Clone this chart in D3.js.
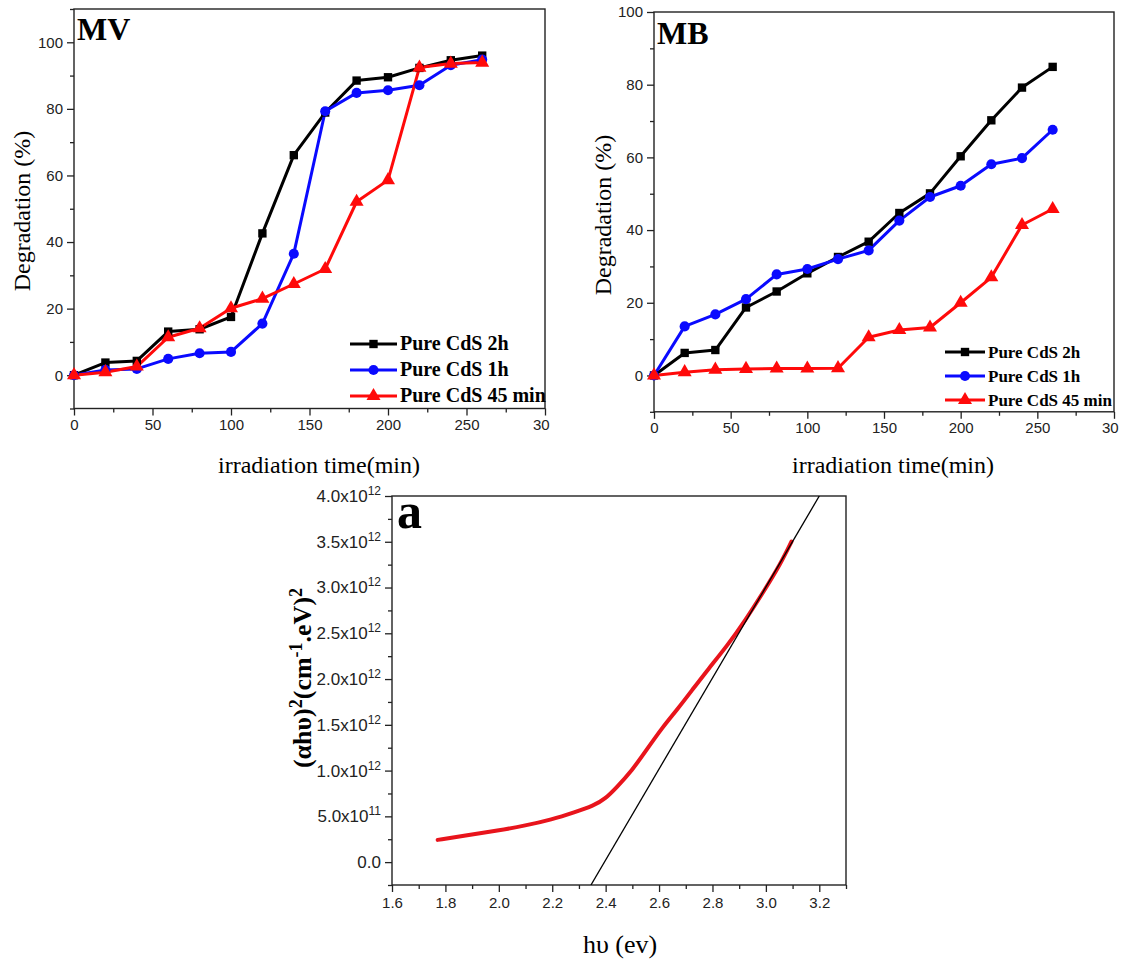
<!DOCTYPE html>
<html><head><meta charset="utf-8">
<script src="https://cdn.jsdelivr.net/npm/d3@7"></script>
<style>body{margin:0;background:#fff} svg{display:block}</style>
</head><body><svg id="c" width="1121" height="962"></svg>
<script>
// ---------- data ----------
const time = [0,20,40,60,80,100,120,140,160,180,200,220,240,260];
const seriesNames = ["Pure CdS 2h","Pure CdS 1h","Pure CdS 45 min"];
const mv2h  = [0,3.8,4.3,13.1,13.8,17.5,42.6,66.1,78.9,88.5,89.5,92.3,94.6,96.0];
const mv1h  = [0,1.6,1.9,4.9,6.6,7.0,15.5,36.5,79.3,84.8,85.6,87.1,93.1,94.8];
const mv45  = [0,0.9,2.6,11.4,14.1,20.1,23.0,27.4,31.9,52.1,58.6,92.4,93.6,93.9];
const mb2h  = [0,6.2,7.0,18.7,23.1,28.1,32.6,36.8,44.7,50.1,60.3,70.2,79.2,84.9];
const mb1h  = [0,13.5,16.8,21.0,27.8,29.3,32.0,34.4,42.6,49.1,52.2,58.1,59.8,67.6];
const mb45  = [0,0.9,1.6,1.8,1.9,1.9,2.0,10.5,12.5,13.2,20.0,27.0,41.4,45.8];
const timeTicks = [0,50,100,150,200,250,300];
const timeTickLabels = ["0","50","100","150","200","250","30"];
const timeMinor = [25,75,125,175,225,275];
const mvYTicks = [0,20,40,60,80,100];
const mvYMinor = [-10,10,30,50,70,90,110];
const mbYTicks = [0,20,40,60,80,100];
const mbYMinor = [-10,10,30,50,70,90];
// Tauc plot (units of 1e12)
const bandX = [1.771,1.871,1.999,2.099,2.198,2.284,2.355,2.398,2.441,2.498,2.555,2.612,2.669,2.726,2.783,2.854,2.925,2.996,3.053,3.096];
const bandY = [0.243,0.290,0.345,0.399,0.465,0.545,0.617,0.690,0.817,0.998,1.234,1.470,1.670,1.888,2.105,2.359,2.650,2.977,3.249,3.503];
const fitX = [2.345,3.2];
const fitY = [-0.25,4.0];
const bandXTicks = [1.6,1.8,2.0,2.2,2.4,2.6,2.8,3.0,3.2];
const bandXMinor = [1.7,1.9,2.1,2.3,2.5,2.7,2.9,3.1,3.3];
const bandYTicks = [0,0.5,1.0,1.5,2.0,2.5,3.0,3.5,4.0];
const bandYMant  = ["0.0","5.0","1.0","1.5","2.0","2.5","3.0","3.5","4.0"];
const bandYExp   = ["","11","12","12","12","12","12","12","12"];
const bandYMinor = [-0.25,0.25,0.75,1.25,1.75,2.25,2.75,3.25,3.75];

// ---------- drawing ----------
const svg = d3.select("#c");
svg.append("rect").attr("width",1121).attr("height",962).attr("fill","#fff");
const defs = svg.append("defs");
const colors = ["#000000","#0a0aff","#ff0a0a"];
const symbols = [d3.symbolSquare, d3.symbolCircle, d3.symbolTriangle];
const symSize = [70, 80, 85];
const serif = "'Liberation Serif','Times New Roman',serif";
const sans = "'Liberation Sans',Arial,sans-serif";

function styleAxis(sel, fs){
  sel.select(".domain").remove();
  sel.selectAll(".tick line").attr("stroke","#222").attr("stroke-width",1.3);
  sel.selectAll(".tick text").attr("fill","#222").style("font-family",sans).style("font-size",(fs||15)+"px");
}

function degPanel(cfg){
  const g = svg.append("g");
  const x = d3.scaleLinear().domain([0,300]).range([cfg.x0,cfg.x1]);
  const y = d3.scaleLinear().domain(cfg.yDom).range([cfg.yb,cfg.yt]);
  // axes
  const xa = g.append("g").attr("transform",`translate(0,${cfg.yb})`)
    .call(d3.axisBottom(x).tickValues(timeTicks).tickSize(7).tickPadding(4).tickFormat((d,i)=>timeTickLabels[i])).call(styleAxis);
  // last label is cut in the original figure ("30"): keep its left edge where "300" would start
  xa.selectAll(".tick text").filter(d=>d===300).attr("text-anchor","start").attr("x",-12.5);
  g.append("g").attr("transform",`translate(0,${cfg.yb})`)
    .call(d3.axisBottom(x).tickValues(timeMinor).tickSize(4).tickFormat("")).call(styleAxis);
  g.append("g").attr("transform",`translate(${cfg.x0},0)`)
    .call(d3.axisLeft(y).tickValues(cfg.yTicks).tickSize(7).tickPadding(4).tickFormat(d3.format("d"))).call(styleAxis);
  g.append("g").attr("transform",`translate(${cfg.x0},0)`)
    .call(d3.axisLeft(y).tickValues(cfg.yMinor).tickSize(4).tickFormat("")).call(styleAxis);
  g.append("rect").attr("x",cfg.x0).attr("y",cfg.yt).attr("width",cfg.x1-cfg.x0).attr("height",cfg.yb-cfg.yt)
    .attr("fill","none").attr("stroke","#222").attr("stroke-width",1.4);
  // series
  const line = d3.line().x(d=>x(d[0])).y(d=>y(d[1]));
  cfg.series.forEach((vals,i)=>{
    const pts = time.map((t,k)=>[t,vals[k]]);
    g.append("path").datum(pts).attr("d",line).attr("fill","none")
      .attr("stroke",colors[i]).attr("stroke-width",3).attr("stroke-linejoin","round");
  });
  cfg.series.forEach((vals,i)=>{
    const pts = time.map((t,k)=>[t,vals[k]]);
    g.selectAll(null).data(pts).enter().append("path")
      .attr("d",d3.symbol().type(symbols[i]).size(symSize[i]))
      .attr("transform",d=>`translate(${x(d[0])},${y(d[1])})`).attr("fill",colors[i]);
  });
  // label
  g.append("text").attr("x",cfg.x0+3).attr("y",cfg.labelY).text(cfg.label)
    .style("font-family",serif).style("font-weight","bold").style("font-size","32px");
  // legend
  seriesNames.forEach((name,i)=>{
    const ly = cfg.leg.y + i*cfg.leg.dy;
    g.append("line").attr("x1",cfg.leg.x1).attr("x2",cfg.leg.x2).attr("y1",ly).attr("y2",ly)
      .attr("stroke",colors[i]).attr("stroke-width",3);
    g.append("path").attr("d",d3.symbol().type(symbols[i]).size(symSize[i]))
      .attr("transform",`translate(${(cfg.leg.x1+cfg.leg.x2)/2},${ly})`).attr("fill",colors[i]);
    g.append("text").attr("x",cfg.leg.x2+3).attr("y",ly+6).text(name)
      .style("font-family",serif).style("font-weight","bold").style("font-size",cfg.leg.fs+"px");
  });
  // titles
  svg.append("text").attr("x",cfg.xtX).attr("y",473).attr("text-anchor","middle")
    .text("irradiation time(min)").style("font-family",serif).style("font-size","24px");
  svg.append("text").attr("transform",`translate(${cfg.ytX},${cfg.ytY}) rotate(-90)`).attr("text-anchor","middle")
    .text("Degradation (%)").style("font-family",serif).style("font-size","24px");
}

degPanel({id:"mv",x0:74,x1:545,yt:9,yb:408.5,yDom:[-10,110],yTicks:mvYTicks,yMinor:mvYMinor,
  series:[mv2h,mv1h,mv45],label:"MV",labelY:40,
  leg:{x1:350,x2:397,y:344,dy:26,fs:20},xtX:319,ytX:30,ytY:211});
degPanel({id:"mb",x0:654,x1:1114,yt:12,yb:411.8,yDom:[-10,100],yTicks:mbYTicks,yMinor:mbYMinor,
  series:[mb2h,mb1h,mb45],label:"MB",labelY:44,
  leg:{x1:945,x2:985,y:352,dy:24,fs:17},xtX:893,ytX:611,ytY:215});

// ---------- Tauc panel ----------
(function(){
  const x0=392,x1=846,yt=496,yb=885;
  const x = d3.scaleLinear().domain([1.6,3.3]).range([x0,x1]);
  const y = d3.scaleLinear().domain([-0.25,4.0]).range([yb,yt]);
  const g = svg.append("g");
  defs.append("clipPath").attr("id","tclip").append("rect").attr("x",x0).attr("y",yt).attr("width",x1-x0).attr("height",yb-yt);
  g.append("g").attr("transform",`translate(0,${yb})`)
    .call(d3.axisBottom(x).tickValues(bandXTicks).tickSize(7).tickPadding(5).tickFormat(d3.format(".1f"))).call(styleAxis);
  g.append("g").attr("transform",`translate(0,${yb})`)
    .call(d3.axisBottom(x).tickValues(bandXMinor).tickSize(4).tickFormat("")).call(styleAxis);
  const ya = g.append("g").attr("transform",`translate(${x0},0)`)
    .call(d3.axisLeft(y).tickValues(bandYTicks).tickSize(7).tickPadding(4).tickFormat("")).call(s=>styleAxis(s,17));
  ya.selectAll(".tick text").each(function(d,i){
    const t = d3.select(this);
    t.append("tspan").text(bandYMant[i] + (bandYExp[i] ? "x10" : ""));
    if (bandYExp[i]) t.append("tspan").attr("dy","-7").style("font-size","12px").text(bandYExp[i]);
  });
  g.append("g").attr("transform",`translate(${x0},0)`)
    .call(d3.axisLeft(y).tickValues(bandYMinor).tickSize(4).tickFormat("")).call(styleAxis);
  g.append("rect").attr("x",x0).attr("y",yt).attr("width",x1-x0).attr("height",yb-yt)
    .attr("fill","none").attr("stroke","#222").attr("stroke-width",1.4);
  const pc = g.append("g").attr("clip-path","url(#tclip)");
  pc.append("path").datum(bandX.map((v,i)=>[v,bandY[i]]))
    .attr("d",d3.line().x(d=>x(d[0])).y(d=>y(d[1])).curve(d3.curveBasis))
    .attr("fill","none").attr("stroke","#e8141c").attr("stroke-width",4).attr("stroke-linecap","round");
  pc.append("path").datum(fitX.map((v,i)=>[v,fitY[i]]))
    .attr("d",d3.line().x(d=>x(d[0])).y(d=>y(d[1])))
    .attr("fill","none").attr("stroke","#000").attr("stroke-width",1.3);
  g.append("text").attr("x",x0+5).attr("y",528).text("a")
    .style("font-family",serif).style("font-weight","bold").style("font-size","50px");
  g.append("text").attr("x",620).attr("y",953).attr("text-anchor","middle").text("hυ (ev)")
    .style("font-family",serif).style("font-size","26px");
  const yt2 = g.append("text").attr("transform","translate(311,678) rotate(-90)").attr("text-anchor","middle")
    .style("font-family",serif).style("font-weight","bold").style("font-size","26px");
  yt2.append("tspan").text("(αhυ)");
  yt2.append("tspan").attr("dy","-9").style("font-size","18px").text("2");
  yt2.append("tspan").attr("dy","9").text("(cm");
  yt2.append("tspan").attr("dy","-9").style("font-size","18px").text("-1");
  yt2.append("tspan").attr("dy","9").text(".eV)");
  yt2.append("tspan").attr("dy","-9").style("font-size","18px").text("2");
})();
</script></body></html>
